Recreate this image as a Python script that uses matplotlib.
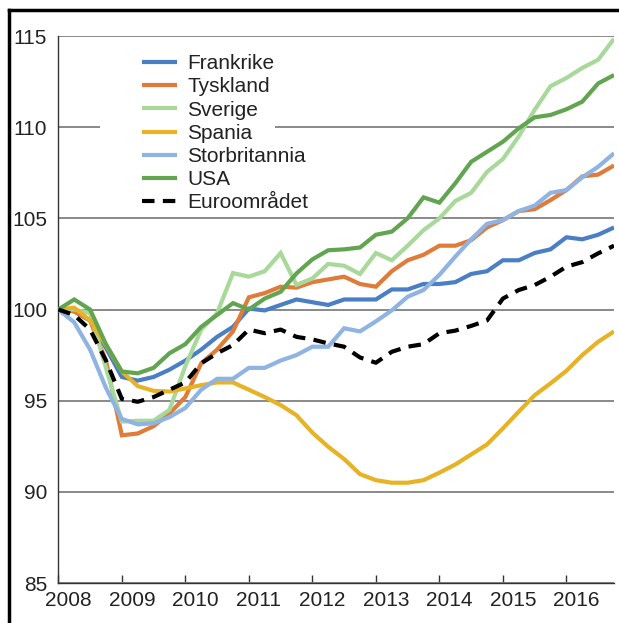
import matplotlib
matplotlib.use("Agg")
import matplotlib.pyplot as plt
import matplotlib.transforms as mtransforms
from matplotlib.lines import Line2D
from matplotlib.patches import Rectangle
import numpy as np

plt.rcParams['font.family'] = ['Liberation Sans', 'DejaVu Sans']

quarters = [2008 + 0.25 * i for i in range(36)]

frankrike = [100.0, 99.9, 99.4, 97.9, 96.3, 96.1, 96.3, 96.7, 97.2, 97.8, 98.5, 99.05,
             100.05, 99.95, 100.25, 100.55, 100.4, 100.25, 100.55, 100.55, 100.55, 101.1, 101.1, 101.4,
             101.4, 101.5, 101.95, 102.1, 102.7, 102.7, 103.1, 103.3, 103.96, 103.85, 104.1, 104.5]
tyskland = [100.0, 99.9, 99.4, 97.2, 93.1, 93.2, 93.6, 94.3, 95.2, 97.05, 97.8, 98.8,
            100.67, 100.9, 101.25, 101.2, 101.5, 101.65, 101.8, 101.4, 101.25, 102.1, 102.7, 103.0,
            103.5, 103.5, 103.8, 104.5, 104.9, 105.4, 105.5, 106.0, 106.55, 107.3, 107.4, 107.9]
sverige = [100.0, 100.0, 99.8, 96.8, 93.85, 93.9, 93.9, 94.5, 96.9, 98.9, 99.8, 102.0,
           101.8, 102.1, 103.1, 101.35, 101.7, 102.5, 102.4, 101.95, 103.1, 102.7, 103.5, 104.35,
           105.0, 105.95, 106.4, 107.55, 108.25, 109.5, 110.95, 112.25, 112.7, 113.25, 113.7, 114.85]
spania = [100.0, 100.1, 99.4, 98.05, 96.6, 95.8, 95.54, 95.5, 95.67, 95.85, 96.0, 96.0,
          95.6, 95.2, 94.76, 94.2, 93.25, 92.47, 91.8, 90.97, 90.64, 90.5, 90.5, 90.64,
          91.05, 91.5, 92.05, 92.6, 93.48, 94.4, 95.3, 95.95, 96.64, 97.5, 98.23, 98.8]
storbritannia = [100.0, 99.3, 97.8, 95.7, 94.0, 93.7, 93.76, 94.1, 94.6, 95.6, 96.2, 96.2,
                 96.8, 96.8, 97.2, 97.5, 97.96, 97.96, 98.97, 98.8, 99.35, 99.95, 100.7, 101.07,
                 101.9, 102.9, 103.85, 104.7, 104.9, 105.4, 105.7, 106.4, 106.55, 107.25, 107.83, 108.57]
usa = [100.0, 100.55, 100.0, 98.1, 96.6, 96.5, 96.8, 97.6, 98.1, 99.05, 99.7, 100.35,
       100.0, 100.6, 100.97, 101.98, 102.75, 103.25, 103.3, 103.4, 104.1, 104.27, 105.0, 106.15,
       105.86, 106.92, 108.1, 108.65, 109.2, 109.94, 110.54, 110.67, 110.98, 111.4, 112.4, 112.86]
euro = [100.0, 99.7, 98.9, 97.2, 95.1, 94.94, 95.2, 95.6, 96.0, 97.05, 97.6, 98.05,
        98.9, 98.7, 98.9, 98.5, 98.36, 98.14, 97.96, 97.37, 97.08, 97.68, 97.96, 98.1,
        98.7, 98.84, 99.1, 99.4, 100.6, 101.07, 101.34, 101.8, 102.35, 102.6, 103.08, 103.5]

labels = ["Frankrike", "Tyskland", "Sverige", "Spania", "Storbritannia", "USA", "Euroområdet"]
year_ticks = list(range(2008, 2017))
y_ticks = [85, 90, 95, 100, 105, 110, 115]

colors = ["#4a7fc5", "#e07b39", "#a8d89a", "#e8b225", "#8fb3e2", "#62a550", "#000000"]

fig = plt.figure(figsize=(6.19, 6.23), dpi=100)
ax = fig.add_axes([0.0942, 0.0642, 0.8978, 0.878])

series = [frankrike, tyskland, sverige, spania, storbritannia, usa, euro]
handles = []
for s, c, lab in zip(series, colors, labels):
    if lab == "Euroområdet":
        h, = ax.plot(quarters, s, color=c, lw=3, ls=(0, (3, 2)), label=lab, zorder=4)
    else:
        h, = ax.plot(quarters, s, color=c, lw=3, label=lab, zorder=3,
                     solid_capstyle='butt', solid_joinstyle='miter')
    handles.append(h)

ax.set_xlim(2008, 2016.75)
ax.set_ylim(85, 115)
ax.set_yticks(y_ticks)
ax.set_xticks(year_ticks)
ax.set_xticklabels([str(y) for y in year_ticks])
ax.grid(axis='y', color='#808080', lw=1.3, zorder=1)
ax.set_axisbelow(True)
for sp in ['top', 'right']:
    ax.spines[sp].set_visible(False)
for sp in ['left', 'bottom']:
    ax.spines[sp].set_color('#333333')
    ax.spines[sp].set_linewidth(1.0)
ax.tick_params(axis='y', length=0, pad=8, labelsize=15, labelcolor='#222222')
ax.tick_params(axis='x', direction='in', length=6, width=1, color='#333333', pad=6,
               labelsize=15, labelcolor='#222222')
offset = mtransforms.ScaledTranslation(10 / 100, 0, fig.dpi_scale_trans)
for lbl in ax.get_xticklabels():
    lbl.set_transform(lbl.get_transform() + offset)

# white legend background box (covers gridline behind legend)
ax.add_patch(Rectangle((0.075, 0.682), 0.315, 0.30, transform=ax.transAxes,
                       facecolor='white', edgecolor='none', zorder=1.5))

leg = ax.legend(handles=handles, loc='upper left', bbox_to_anchor=(0.12, 0.997),
                fontsize=15, frameon=False,
                handlelength=1.7, handletextpad=0.48, labelspacing=0.2, borderpad=0.3)
for t in leg.get_texts():
    t.set_color('#222222')
leg.set_zorder(5)

# figure frame (left and top edges)
fig.add_artist(Line2D([9 / 619, 9 / 619], [0, 1 - 10 / 623], transform=fig.transFigure,
                      color='black', lw=2.5))
fig.add_artist(Line2D([9 / 619, 1], [1 - 10 / 623, 1 - 10 / 623], transform=fig.transFigure,
                      color='black', lw=2.5))

fig.savefig("out.png", dpi=100)
